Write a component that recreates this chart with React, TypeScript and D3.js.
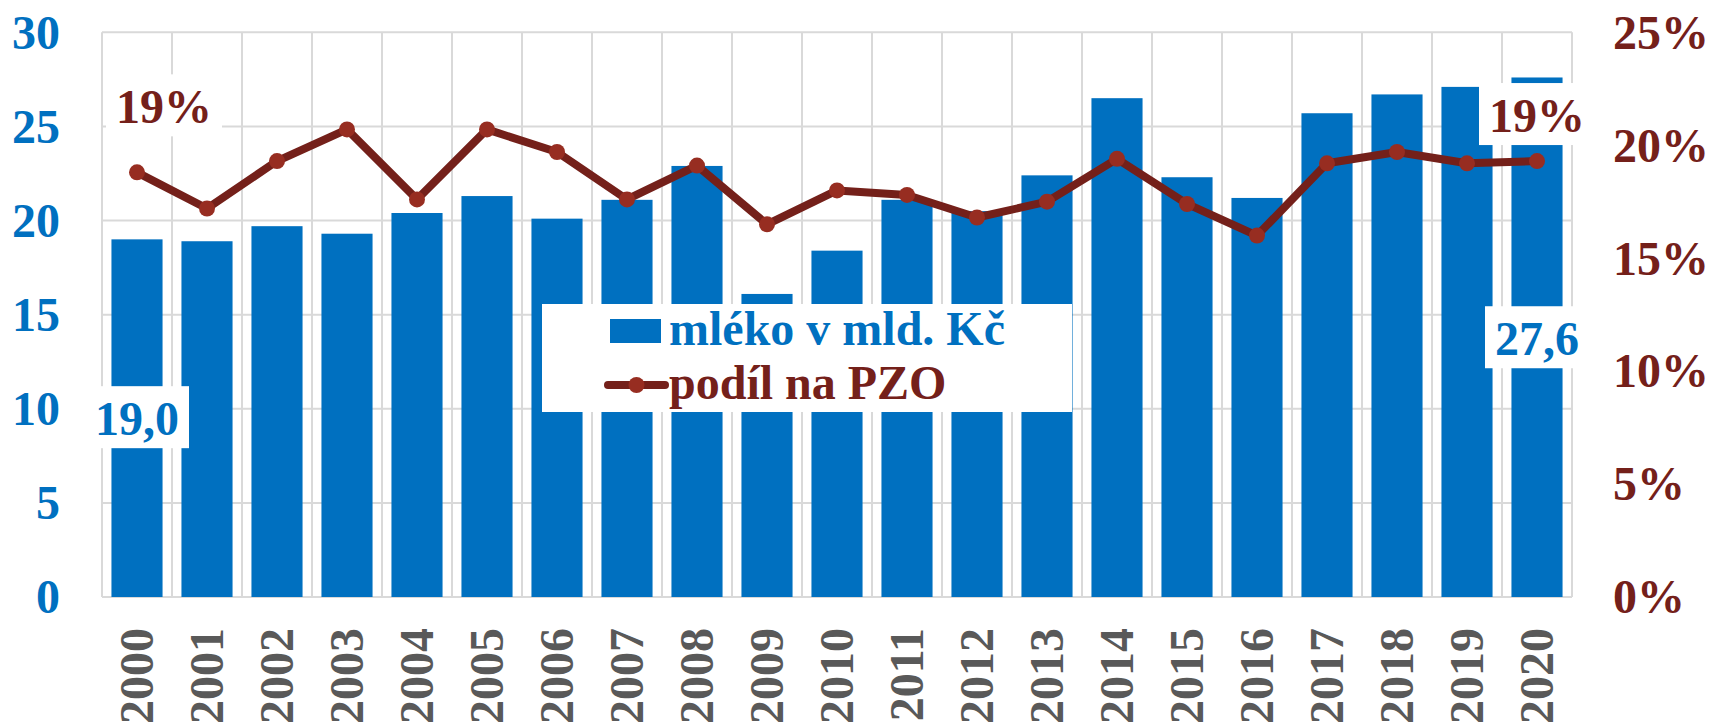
import React, { useEffect, useRef } from "react";
import * as d3 from "d3";

// categories and values
const years = ["2000", "2001", "2002", "2003", "2004", "2005", "2006", "2007", "2008", "2009", "2010",
  "2011", "2012", "2013", "2014", "2015", "2016", "2017", "2018", "2019", "2020"];
const milkValues = [19.0, 18.9, 19.7, 19.3, 20.4, 21.3, 20.1, 21.1, 22.9, 16.1, 18.4,
  21.1, 20.5, 22.4, 26.5, 22.3, 21.2, 25.7, 26.7, 27.1, 27.6];
const shareValues = [0.188, 0.172, 0.193, 0.207, 0.176, 0.207, 0.197, 0.176, 0.191, 0.165, 0.180,
  0.178, 0.168, 0.175, 0.194, 0.174, 0.160, 0.192, 0.197, 0.192, 0.193];
const leftTicks = [0, 5, 10, 15, 20, 25, 30];
const rightTicks = [0, 0.05, 0.1, 0.15, 0.2, 0.25];
const seriesNames = ["mléko v mld. Kč", "podíl na PZO"];

const FONT = "'Liberation Serif', 'Times New Roman', serif";
const BLUE = "#0070C0";
const RED = "#74201A";
const MARKER = "#972D21";
const GRID = "#D9D9D9";

export default function App() {
  const ref = useRef<SVGSVGElement>(null);

  useEffect(() => {
    const svg = d3.select(ref.current);
    svg.selectAll("*").remove();

    const left = 102, right = 1572, top = 32.3, bottom = 597;

    const x = d3.scaleBand().domain(years).range([left, right]).paddingInner(0.27).paddingOuter(0.135);
    const yL = d3.scaleLinear().domain([0, 30]).range([bottom, top]);
    const yR = d3.scaleLinear().domain([0, 0.25]).range([bottom, top]);
    const cx = (i: number) => (x(years[i]) as number) + x.bandwidth() / 2;

    // ----- gridlines -----
    const grid = svg.append("g");
    grid.selectAll(".hg").data(leftTicks).enter().append("line")
      .attr("x1", left).attr("x2", right)
      .attr("y1", d => yL(d)).attr("y2", d => yL(d))
      .attr("stroke", GRID).attr("stroke-width", 2);
    grid.selectAll(".vg").data(d3.range(years.length + 1)).enter().append("line")
      .attr("x1", i => left + i * x.step()).attr("x2", i => left + i * x.step())
      .attr("y1", top).attr("y2", bottom)
      .attr("stroke", GRID).attr("stroke-width", 2);

    // ----- bars -----
    svg.append("g").selectAll("rect").data(milkValues).enter().append("rect")
      .attr("x", (d, i) => x(years[i]) as number)
      .attr("y", d => yL(d))
      .attr("width", x.bandwidth())
      .attr("height", d => bottom - yL(d))
      .attr("fill", BLUE);

    // ----- line -----
    const line = d3.line<number>().x((d, i) => cx(i)).y(d => yR(d));
    svg.append("path").datum(shareValues)
      .attr("d", line)
      .attr("fill", "none")
      .attr("stroke", RED)
      .attr("stroke-width", 8)
      .attr("stroke-linejoin", "round");
    svg.append("g").selectAll("circle").data(shareValues).enter().append("circle")
      .attr("cx", (d, i) => cx(i)).attr("cy", d => yR(d)).attr("r", 8)
      .attr("fill", MARKER);

    // ----- left axis -----
    const axL = svg.append("g").attr("transform", "translate(60,0)")
      .call(d3.axisLeft(yL).tickValues(leftTicks).tickSize(0).tickPadding(0));
    axL.select(".domain").remove();
    axL.selectAll("text")
      .attr("font-family", FONT).attr("font-size", 48).attr("font-weight", "bold")
      .attr("fill", BLUE).attr("dy", "0.33em");

    // ----- right axis -----
    const axR = svg.append("g").attr("transform", "translate(1613,0)")
      .call(d3.axisRight(yR).tickValues(rightTicks).tickSize(0).tickPadding(0)
        .tickFormat(d => Math.round((d as number) * 100) + "%"));
    axR.select(".domain").remove();
    axR.selectAll("text")
      .attr("font-family", FONT).attr("font-size", 48).attr("font-weight", "bold")
      .attr("fill", RED).attr("dy", "0.33em");

    // ----- year labels (rotated) -----
    svg.append("g").selectAll("text").data(years).enter().append("text")
      .attr("transform", (d, i) => `translate(${cx(i) + 16},628) rotate(-90)`)
      .attr("text-anchor", "end")
      .attr("font-family", FONT).attr("font-size", 48).attr("font-weight", "bold")
      .attr("fill", "#595959")
      .text(d => d);

    // ----- data labels with white boxes -----
    const addLabel = (tx: number, baseline: number, txt: string, color: string) => {
      const g = svg.append("g");
      const rect = g.append("rect").attr("fill", "white");
      const t = g.append("text")
        .attr("x", tx).attr("y", baseline)
        .attr("text-anchor", "middle")
        .attr("font-family", FONT).attr("font-size", 48).attr("font-weight", "bold")
        .attr("fill", color).text(txt);
      const bb = (t.node() as SVGTextElement).getBBox();
      rect.attr("x", bb.x - 10).attr("width", bb.width + 20)
        .attr("y", baseline - 49).attr("height", 62);
    };
    const last = years.length - 1;
    addLabel(cx(0) + 27, yR(shareValues[0]) - 49, Math.round(shareValues[0] * 100) + "%", RED);
    addLabel(cx(last), yR(shareValues[last]) - 29, Math.round(shareValues[last] * 100) + "%", RED);
    const fmt = (v: number) => v.toFixed(1).replace(".", ",");
    addLabel(cx(0), (yL(milkValues[0]) + bottom) / 2 + 17, fmt(milkValues[0]), BLUE);
    addLabel(cx(last), (yL(milkValues[last]) + bottom) / 2 + 18, fmt(milkValues[last]), BLUE);

    // ----- legend -----
    const lg = svg.append("g");
    lg.append("rect").attr("x", 542).attr("y", 304).attr("width", 530).attr("height", 108).attr("fill", "white");
    lg.append("rect").attr("x", 610).attr("y", 319).attr("width", 51).attr("height", 24).attr("fill", BLUE);
    lg.append("text").attr("x", 669).attr("y", 345)
      .attr("font-family", FONT).attr("font-size", 48).attr("font-weight", "bold")
      .attr("fill", BLUE).text(seriesNames[0]);
    lg.append("line").attr("x1", 608).attr("x2", 665).attr("y1", 385).attr("y2", 385)
      .attr("stroke", RED).attr("stroke-width", 8).attr("stroke-linecap", "round");
    lg.append("circle").attr("cx", 636.5).attr("cy", 385).attr("r", 8).attr("fill", MARKER);
    lg.append("text").attr("x", 669).attr("y", 399)
      .attr("font-family", FONT).attr("font-size", 48).attr("font-weight", "bold")
      .attr("fill", RED).text(seriesNames[1]);
  }, []);

  return (
    <svg ref={ref} width={1710} height={724}
      style={{ position: "absolute", left: 0, top: 0, background: "white" }} />
  );
}
